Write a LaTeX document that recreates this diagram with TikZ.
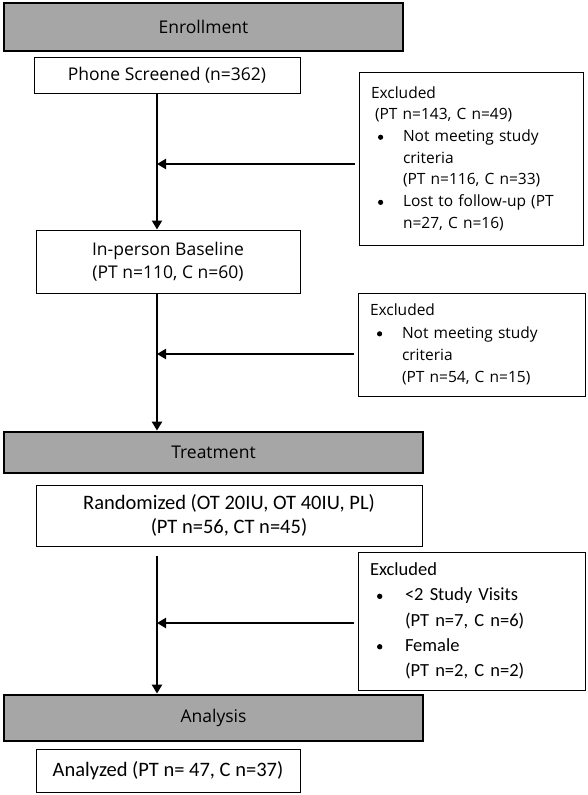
\documentclass[tikz,border=0pt]{standalone}
\usepackage{fontspec}
\setmainfont{Open Sans}
\newfontfamily\calfont{Carlito}
\usetikzlibrary{arrows.meta}
\definecolor{phasegray}{RGB}{166,166,166}
\tikzset{
  phase/.style={draw=black, line width=2.8pt, fill=phasegray, inner sep=0pt, font=\fontsize{17.5}{22}\selectfont},
  mainbox/.style={draw=black, line width=1pt, fill=white, inner sep=0pt, align=center, font=\fontsize{17.5}{23.5}\selectfont},
  calbox/.style={mainbox, font=\calfont\fontsize{20.5}{23.5}\selectfont},
  exbox/.style={draw=black, line width=1pt, fill=white, inner sep=0pt, align=left},
  flow/.style={line width=2.6pt, -{Triangle[width=10pt,length=9pt]}},
}
\newcommand{\bul}{\makebox[32pt][l]{\hspace{7pt}\tikz[baseline=-4.2pt]\fill (0,0) circle (2.6pt);}}
\newcommand{\bulc}{\makebox[35pt][l]{\hspace{7pt}\tikz[baseline=-4.6pt]\fill (0,0) circle (2.7pt);}}
\newcommand{\ind}{\hspace*{32pt}}
\newcommand{\indc}{\hspace*{35pt}}
\begin{document}
\begin{tikzpicture}[x=1pt,y=-1pt]
\useasboundingbox (0,0) rectangle (587,795);
\fill[white] (0,0) rectangle (587,795);
\path (157,0) coordinate (col);

\node[phase, minimum width=399pt, minimum height=48pt] (enroll) at (203.5,27) {Enrollment};
\node[mainbox, minimum width=266pt, minimum height=36pt] (phone) at (167,75) {Phone Screened (n=362)};
\node[exbox, minimum width=224pt, minimum height=173pt, text width=200pt, font=\fontsize{15.5}{21.7}\selectfont] (ex1) at (471,158.5)
 {Excluded\\
  \hspace*{4pt}(PT n=143, C n=49)\\
  \bul Not meeting study\\
  \ind criteria\\
  \ind (PT n=116, C n=33)\\
  \bul Lost to follow-up (PT\\
  \ind n=27, C n=16)};
\node[mainbox, minimum width=264pt, minimum height=63pt] (base) at (168,261.5) {In-person Baseline\\(PT n=110, C n=60)};
\node[exbox, minimum width=227pt, minimum height=103pt, text width=203pt, font=\fontsize{15.5}{22.3}\selectfont] (ex2) at (471.5,344.5)
 {Excluded\\
  \bul Not meeting study\\
  \ind criteria\\
  \ind (PT n=54, C n=15)};
\node[phase, minimum width=419pt, minimum height=41pt] (treat) at (213.5,452.5) {Treatment};
\node[calbox, minimum width=386pt, minimum height=61pt] (rand) at (229,515.5) {Randomized (OT 20IU, OT 40IU, PL)\\(PT n=56, CT n=45)};
\node[exbox, minimum width=227pt, minimum height=138pt, text width=203pt, font=\calfont\fontsize{18.5}{25.2}\selectfont] (ex3) at (471.5,621)
 {Excluded\\
  \bulc <2 Study Visits\\
  \indc (PT n=7, C n=6)\\
  \bulc Female\\
  \indc (PT n=2, C n=2)};
\node[phase, minimum width=419pt, minimum height=46pt] (anal) at (213.5,718) {Analysis};
\node[calbox, minimum width=264pt, minimum height=43pt] (analyzed) at (168,770.5) {Analyzed (PT n= 47, C n=37)};

\path (0,164) coordinate (h1) (0,354) coordinate (h2) (0,623) coordinate (h3);

\draw[flow] (phone.south -| col) -- (base.north -| col);
\draw[flow, shorten <=4pt] (ex1.west |- h1) -- (col |- h1);
\draw[flow] (base.south -| col) -- (treat.north -| col);
\draw[flow, shorten <=4pt] (ex2.west |- h2) -- (col |- h2);
\draw[flow, shorten <=9pt] (rand.south -| col) -- (anal.north -| col);
\draw[flow, shorten <=4pt] (ex3.west |- h3) -- (col |- h3);
\end{tikzpicture}
\end{document}
